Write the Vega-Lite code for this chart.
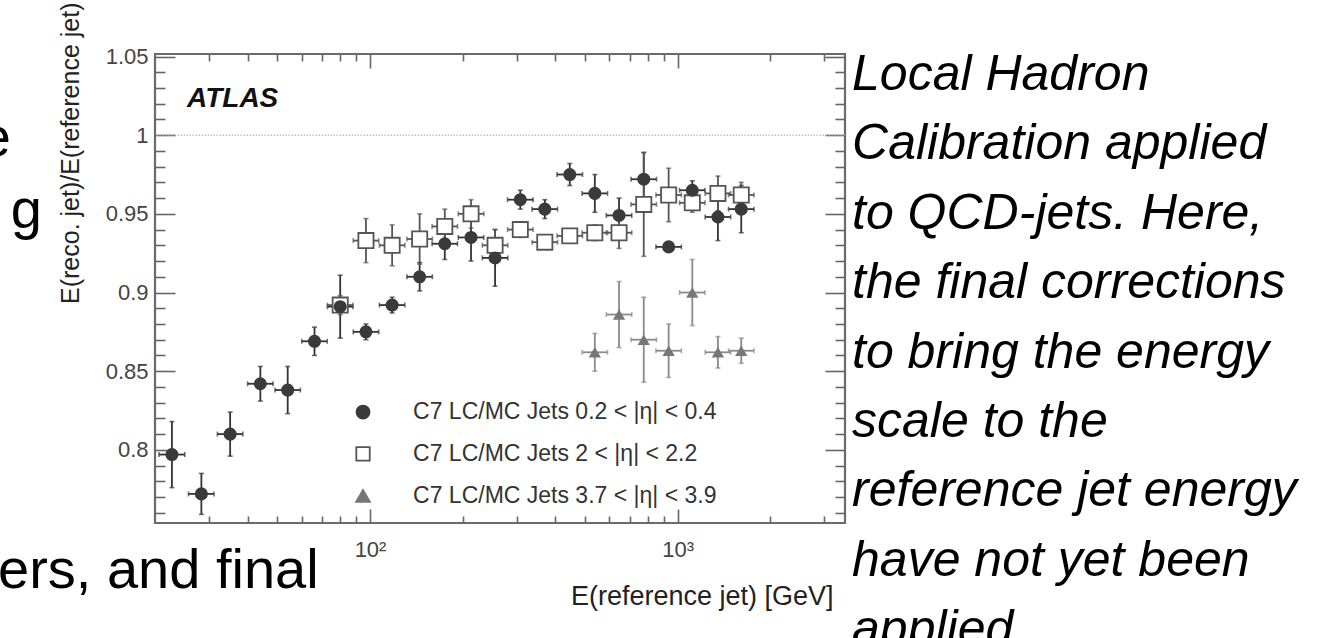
{
  "$schema": "https://vega.github.io/schema/vega-lite/v6.json",
  "width": 690,
  "height": 469,
  "autosize": {"type": "none"},
  "padding": {"left": 155, "top": 54, "right": 489, "bottom": 115},
  "background": "white",
  "config": {"view": {"stroke": "#6a6a6a", "strokeWidth": 2.2}, "font": "Liberation Sans"},
  "datasets": {
    "pts": [
      {"s": "eta02", "E": 22.7, "r": 0.797, "Elo": 20.6, "Ehi": 25.0, "rlo": 0.776, "rhi": 0.818},
      {"s": "eta02", "E": 28.3, "r": 0.772, "Elo": 25.7, "Ehi": 31.1, "rlo": 0.759, "rhi": 0.785},
      {"s": "eta02", "E": 35.1, "r": 0.810, "Elo": 31.9, "Ehi": 38.6, "rlo": 0.796, "rhi": 0.824},
      {"s": "eta02", "E": 44, "r": 0.842, "Elo": 40, "Ehi": 48.4, "rlo": 0.831, "rhi": 0.853},
      {"s": "eta02", "E": 54, "r": 0.838, "Elo": 49.1, "Ehi": 59.4, "rlo": 0.823, "rhi": 0.853},
      {"s": "eta02", "E": 66, "r": 0.869, "Elo": 60, "Ehi": 72.6, "rlo": 0.860, "rhi": 0.878},
      {"s": "eta02", "E": 80, "r": 0.891, "Elo": 72.7, "Ehi": 88, "rlo": 0.871, "rhi": 0.911},
      {"s": "eta02", "E": 97, "r": 0.875, "Elo": 88.2, "Ehi": 106.7, "rlo": 0.870, "rhi": 0.880},
      {"s": "eta02", "E": 118, "r": 0.892, "Elo": 107.3, "Ehi": 129.8, "rlo": 0.887, "rhi": 0.897},
      {"s": "eta02", "E": 145, "r": 0.910, "Elo": 131.8, "Ehi": 159.5, "rlo": 0.901, "rhi": 0.919},
      {"s": "eta02", "E": 175, "r": 0.931, "Elo": 159.1, "Ehi": 192.5, "rlo": 0.921, "rhi": 0.941},
      {"s": "eta02", "E": 213, "r": 0.935, "Elo": 193.6, "Ehi": 234.3, "rlo": 0.920, "rhi": 0.950},
      {"s": "eta02", "E": 255, "r": 0.922, "Elo": 231.8, "Ehi": 280.5, "rlo": 0.904, "rhi": 0.940},
      {"s": "eta02", "E": 308, "r": 0.959, "Elo": 280, "Ehi": 338.8, "rlo": 0.953, "rhi": 0.965},
      {"s": "eta02", "E": 370, "r": 0.953, "Elo": 336.4, "Ehi": 407, "rlo": 0.947, "rhi": 0.959},
      {"s": "eta02", "E": 446, "r": 0.975, "Elo": 405.5, "Ehi": 490.6, "rlo": 0.968, "rhi": 0.982},
      {"s": "eta02", "E": 538, "r": 0.963, "Elo": 489.1, "Ehi": 591.8, "rlo": 0.951, "rhi": 0.975},
      {"s": "eta02", "E": 645, "r": 0.949, "Elo": 586.4, "Ehi": 709.5, "rlo": 0.938, "rhi": 0.960},
      {"s": "eta02", "E": 776, "r": 0.972, "Elo": 705.5, "Ehi": 853.6, "rlo": 0.955, "rhi": 0.989},
      {"s": "eta02", "E": 935, "r": 0.929, "Elo": 850, "Ehi": 1028.5, "rlo": 0.926, "rhi": 0.932},
      {"s": "eta02", "E": 1116, "r": 0.965, "Elo": 1014.5, "Ehi": 1227.6, "rlo": 0.959, "rhi": 0.971},
      {"s": "eta02", "E": 1352, "r": 0.948, "Elo": 1229, "Ehi": 1487, "rlo": 0.933, "rhi": 0.963},
      {"s": "eta02", "E": 1610, "r": 0.953, "Elo": 1463.6, "Ehi": 1771, "rlo": 0.938, "rhi": 0.968},
      {"s": "eta2", "E": 80, "r": 0.892, "Elo": 72.7, "Ehi": 88, "rlo": 0.886, "rhi": 0.898},
      {"s": "eta2", "E": 97, "r": 0.933, "Elo": 88.2, "Ehi": 106.7, "rlo": 0.919, "rhi": 0.947},
      {"s": "eta2", "E": 118, "r": 0.930, "Elo": 107.3, "Ehi": 129.8, "rlo": 0.917, "rhi": 0.943},
      {"s": "eta2", "E": 145, "r": 0.934, "Elo": 131.8, "Ehi": 159.5, "rlo": 0.918, "rhi": 0.950},
      {"s": "eta2", "E": 175, "r": 0.942, "Elo": 159.1, "Ehi": 192.5, "rlo": 0.931, "rhi": 0.953},
      {"s": "eta2", "E": 213, "r": 0.950, "Elo": 193.6, "Ehi": 234.3, "rlo": 0.941, "rhi": 0.959},
      {"s": "eta2", "E": 255, "r": 0.930, "Elo": 231.8, "Ehi": 280.5, "rlo": 0.920, "rhi": 0.940},
      {"s": "eta2", "E": 308, "r": 0.940, "Elo": 280, "Ehi": 338.8, "rlo": 0.935, "rhi": 0.945},
      {"s": "eta2", "E": 370, "r": 0.932, "Elo": 336.4, "Ehi": 407, "rlo": 0.928, "rhi": 0.936},
      {"s": "eta2", "E": 446, "r": 0.936, "Elo": 405.5, "Ehi": 490.6, "rlo": 0.932, "rhi": 0.940},
      {"s": "eta2", "E": 538, "r": 0.938, "Elo": 489.1, "Ehi": 591.8, "rlo": 0.933, "rhi": 0.943},
      {"s": "eta2", "E": 645, "r": 0.938, "Elo": 586.4, "Ehi": 709.5, "rlo": 0.928, "rhi": 0.948},
      {"s": "eta2", "E": 776, "r": 0.956, "Elo": 705.5, "Ehi": 853.6, "rlo": 0.923, "rhi": 0.989},
      {"s": "eta2", "E": 935, "r": 0.962, "Elo": 850, "Ehi": 1028.5, "rlo": 0.945, "rhi": 0.979},
      {"s": "eta2", "E": 1116, "r": 0.957, "Elo": 1014.5, "Ehi": 1227.6, "rlo": 0.951, "rhi": 0.963},
      {"s": "eta2", "E": 1352, "r": 0.963, "Elo": 1229, "Ehi": 1487, "rlo": 0.952, "rhi": 0.974},
      {"s": "eta2", "E": 1610, "r": 0.962, "Elo": 1463.6, "Ehi": 1771, "rlo": 0.954, "rhi": 0.970},
      {"s": "eta37", "E": 538, "r": 0.862, "Elo": 489.1, "Ehi": 591.8, "rlo": 0.850, "rhi": 0.874},
      {"s": "eta37", "E": 645, "r": 0.886, "Elo": 586.4, "Ehi": 709.5, "rlo": 0.865, "rhi": 0.907},
      {"s": "eta37", "E": 776, "r": 0.870, "Elo": 705.5, "Ehi": 853.6, "rlo": 0.843, "rhi": 0.897},
      {"s": "eta37", "E": 935, "r": 0.863, "Elo": 850, "Ehi": 1028.5, "rlo": 0.846, "rhi": 0.880},
      {"s": "eta37", "E": 1116, "r": 0.900, "Elo": 1014.5, "Ehi": 1227.6, "rlo": 0.879, "rhi": 0.921},
      {"s": "eta37", "E": 1352, "r": 0.862, "Elo": 1229, "Ehi": 1487, "rlo": 0.852, "rhi": 0.872},
      {"s": "eta37", "E": 1610, "r": 0.863, "Elo": 1463.6, "Ehi": 1771, "rlo": 0.855, "rhi": 0.871}
    ],
    "legend": [
      {"s": "eta02", "E": 94.9, "Et": 138, "r": 0.8240, "label": "C7 LC/MC Jets 0.2 < |η| < 0.4"},
      {"s": "eta2", "E": 94.9, "Et": 138, "r": 0.7974, "label": "C7 LC/MC Jets 2 < |η| < 2.2"},
      {"s": "eta37", "E": 94.9, "Et": 138, "r": 0.7707, "label": "C7 LC/MC Jets 3.7 < |η| < 3.9"}
    ],
    "para": [
      {"E": 3689, "r": 1.03825, "t": "Local Hadron"},
      {"E": 3689, "r": 0.99414, "t": "Calibration applied"},
      {"E": 3689, "r": 0.95003, "t": "to QCD-jets. Here,"},
      {"E": 3689, "r": 0.90592, "t": "the final corrections"},
      {"E": 3689, "r": 0.86181, "t": "to bring the energy"},
      {"E": 3689, "r": 0.81770, "t": "scale to the"},
      {"E": 3689, "r": 0.77359, "t": "reference jet energy"},
      {"E": 3689, "r": 0.72947, "t": "have not yet been"},
      {"E": 3689, "r": 0.68536, "t": "applied"}
    ],
    "slide": [
      {"E": 6.806, "r": 0.98677, "t": "e"},
      {"E": 8.585, "r": 0.94101, "t": "g"}
    ],
    "slide2": [
      {"E": 6.177, "r": 0.71219, "t": "ers, and final"}
    ],
    "one": [{"r": 1}],
    "atlas": [{"E": 25.42, "r": 1.0179, "t": "ATLAS"}]
  },
  "resolve": {"axis": {"x": "independent", "y": "independent"}},
  "layer": [
    {
      "data": {"name": "one"},
      "mark": {"type": "rule", "color": "#b0b0b0", "strokeDash": [1.5, 1.5], "strokeWidth": 1.2},
      "encoding": {
        "y": {"field": "r", "type": "quantitative", "scale": {"domain": [0.7535, 1.0516], "zero": false, "nice": false}, "axis": null}
      }
    },
    {
      "data": {"name": "pts"},
      "mark": {"type": "rule", "strokeWidth": 1.8},
      "encoding": {
        "x": {"field": "E", "type": "quantitative", "scale": {"type": "log", "domain": [20, 3500], "nice": false},
          "axis": {
            "orient": "bottom", "values": [30,40,50,60,70,80,90,100,200,300,400,500,600,700,800,900,1000,2000,3000],
            "labelExpr": "datum.value == 100 ? '10²' : (datum.value == 1000 ? '10³' : '')",
            "tickSize": {"condition": {"test": "datum.value == 100 || datum.value == 1000", "value": -14}, "value": -7},
            "tickColor": "#666", "tickWidth": 1.6, "domain": false, "grid": false,
            "labelOverlap": false, "labelFlush": false, "labelFontSize": 22, "labelColor": "#444", "labelPadding": 30,
            "title": "E(reference jet) [GeV]", "titleFontSize": 27, "titleFontWeight": "normal", "titleColor": "#222",
            "titleX": 678, "titleY": 60, "titleAlign": "right", "titleBaseline": "top"
          }},
        "y": {"field": "rlo", "type": "quantitative", "scale": {"domain": [0.7535, 1.0516], "zero": false, "nice": false},
          "axis": {
            "orient": "left", "values": [0.76,0.77,0.78,0.79,0.8,0.81,0.82,0.83,0.84,0.85,0.86,0.87,0.88,0.89,0.9,0.91,0.92,0.93,0.94,0.95,0.96,0.97,0.98,0.99,1,1.01,1.02,1.03,1.04,1.05],
            "labelExpr": "abs(datum.value*20 - round(datum.value*20)) < 0.001 ? format(datum.value, '~g') : ''",
            "tickSize": {"condition": {"test": "abs(datum.value*20 - round(datum.value*20)) < 0.001", "value": -20}, "value": -10},
            "tickColor": "#666", "tickWidth": 1.6, "domain": false, "grid": false,
            "labelOverlap": false, "labelFlush": false, "labelFontSize": 22, "labelColor": "#444", "labelPadding": 27,
            "title": "E(reco. jet)/E(reference jet)", "titleFontSize": 25, "titleFontWeight": "normal", "titleColor": "#222",
            "titleX": -72, "titleY": -52, "titleAlign": "right", "titleBaseline": "bottom", "titleAngle": 270
          }},
        "y2": {"field": "rhi"},
        "color": {"field": "s", "type": "nominal", "scale": {"domain": ["eta02", "eta2", "eta37"], "range": ["#333333", "#555555", "#8a8a8a"]}, "legend": null}
      }
    },
    {
      "data": {"name": "pts"},
      "mark": {"type": "rule", "strokeWidth": 1.8},
      "encoding": {
        "x": {"field": "Elo", "type": "quantitative", "scale": {"type": "log", "domain": [20, 3500], "nice": false},
          "axis": {
            "orient": "top", "values": [30,40,50,60,70,80,90,100,200,300,400,500,600,700,800,900,1000,2000,3000],
            "labels": false, "title": null,
            "tickSize": {"condition": {"test": "datum.value == 100 || datum.value == 1000", "value": -14}, "value": -7},
            "tickColor": "#666", "tickWidth": 1.6, "domain": false, "grid": false
          }},
        "x2": {"field": "Ehi"},
        "y": {"field": "r", "type": "quantitative", "scale": {"domain": [0.7535, 1.0516], "zero": false, "nice": false},
          "axis": {
            "orient": "right", "values": [0.76,0.77,0.78,0.79,0.8,0.81,0.82,0.83,0.84,0.85,0.86,0.87,0.88,0.89,0.9,0.91,0.92,0.93,0.94,0.95,0.96,0.97,0.98,0.99,1,1.01,1.02,1.03,1.04,1.05],
            "labels": false, "title": null,
            "tickSize": {"condition": {"test": "abs(datum.value*20 - round(datum.value*20)) < 0.001", "value": -20}, "value": -10},
            "tickColor": "#666", "tickWidth": 1.6, "domain": false, "grid": false
          }},
        "color": {"field": "s", "type": "nominal", "scale": {"domain": ["eta02", "eta2", "eta37"], "range": ["#333333", "#555555", "#8a8a8a"]}, "legend": null}
      }
    },
    {
      "data": {"name": "pts"},
      "transform": [{"fold": ["rlo", "rhi"], "as": ["end", "rv"]}],
      "mark": {"type": "tick", "orient": "horizontal", "size": 5, "thickness": 1.6},
      "encoding": {
        "x": {"field": "E", "type": "quantitative", "scale": {"type": "log", "domain": [20, 3500], "nice": false}, "axis": null},
        "y": {"field": "rv", "type": "quantitative", "scale": {"domain": [0.7535, 1.0516], "zero": false, "nice": false}, "axis": null},
        "color": {"field": "s", "type": "nominal", "scale": {"domain": ["eta02", "eta2", "eta37"], "range": ["#333333", "#555555", "#8a8a8a"]}, "legend": null}
      }
    },
    {
      "data": {"name": "pts"},
      "transform": [{"fold": ["Elo", "Ehi"], "as": ["end", "Ev"]}],
      "mark": {"type": "tick", "orient": "vertical", "size": 5, "thickness": 1.6},
      "encoding": {
        "x": {"field": "Ev", "type": "quantitative", "scale": {"type": "log", "domain": [20, 3500], "nice": false}, "axis": null},
        "y": {"field": "r", "type": "quantitative", "scale": {"domain": [0.7535, 1.0516], "zero": false, "nice": false}, "axis": null},
        "color": {"field": "s", "type": "nominal", "scale": {"domain": ["eta02", "eta2", "eta37"], "range": ["#333333", "#555555", "#8a8a8a"]}, "legend": null}
      }
    },
    {
      "data": {"name": "pts"},
      "transform": [{"filter": "datum.s == 'eta2'"}],
      "mark": {"type": "point", "shape": "square", "filled": true, "fill": "white", "stroke": "#555", "strokeWidth": 1.8, "size": 230, "opacity": 1},
      "encoding": {
        "x": {"field": "E", "type": "quantitative", "scale": {"type": "log", "domain": [20, 3500], "nice": false}, "axis": null},
        "y": {"field": "r", "type": "quantitative", "scale": {"domain": [0.7535, 1.0516], "zero": false, "nice": false}, "axis": null}
      }
    },
    {
      "data": {"name": "pts"},
      "transform": [{"filter": "datum.s == 'eta02'"}],
      "mark": {"type": "point", "shape": "circle", "filled": true, "fill": "#3a3a3a", "size": 170, "opacity": 1},
      "encoding": {
        "x": {"field": "E", "type": "quantitative", "scale": {"type": "log", "domain": [20, 3500], "nice": false}, "axis": null},
        "y": {"field": "r", "type": "quantitative", "scale": {"domain": [0.7535, 1.0516], "zero": false, "nice": false}, "axis": null}
      }
    },
    {
      "data": {"name": "pts"},
      "transform": [{"filter": "datum.s == 'eta37'"}],
      "mark": {"type": "point", "shape": "triangle-up", "filled": true, "fill": "#777", "size": 150, "opacity": 1},
      "encoding": {
        "x": {"field": "E", "type": "quantitative", "scale": {"type": "log", "domain": [20, 3500], "nice": false}, "axis": null},
        "y": {"field": "r", "type": "quantitative", "scale": {"domain": [0.7535, 1.0516], "zero": false, "nice": false}, "axis": null}
      }
    },
    {
      "data": {"name": "legend"},
      "mark": {"type": "point", "filled": true, "opacity": 1, "strokeWidth": 1.8},
      "encoding": {
        "x": {"field": "E", "type": "quantitative", "scale": {"type": "log", "domain": [20, 3500], "nice": false}, "axis": null},
        "y": {"field": "r", "type": "quantitative", "scale": {"domain": [0.7535, 1.0516], "zero": false, "nice": false}, "axis": null},
        "shape": {"field": "s", "type": "nominal", "scale": {"domain": ["eta02", "eta2", "eta37"], "range": ["circle", "square", "triangle-up"]}, "legend": null},
        "fill": {"field": "s", "type": "nominal", "scale": {"domain": ["eta02", "eta2", "eta37"], "range": ["#3a3a3a", "#ffffff", "#777777"]}, "legend": null},
        "stroke": {"field": "s", "type": "nominal", "scale": {"domain": ["eta02", "eta2", "eta37"], "range": ["#3a3a3a", "#555555", "#777777"]}, "legend": null},
        "size": {"field": "s", "type": "nominal", "scale": {"domain": ["eta02", "eta2", "eta37"], "range": [170, 190, 120]}, "legend": null}
      }
    },
    {
      "data": {"name": "legend"},
      "mark": {"type": "text", "align": "left", "baseline": "middle", "fontSize": 23, "color": "#333"},
      "encoding": {
        "x": {"field": "Et", "type": "quantitative", "scale": {"type": "log", "domain": [20, 3500], "nice": false}, "axis": null},
        "y": {"field": "r", "type": "quantitative", "scale": {"domain": [0.7535, 1.0516], "zero": false, "nice": false}, "axis": null},
        "text": {"field": "label"}
      }
    },
    {
      "data": {"name": "atlas"},
      "mark": {"type": "text", "align": "left", "baseline": "alphabetic", "fontSize": 28, "fontWeight": "bold", "fontStyle": "italic", "color": "#111"},
      "encoding": {
        "x": {"field": "E", "type": "quantitative", "scale": {"type": "log", "domain": [20, 3500], "nice": false}, "axis": null},
        "y": {"field": "r", "type": "quantitative", "scale": {"domain": [0.7535, 1.0516], "zero": false, "nice": false}, "axis": null},
        "text": {"field": "t"}
      }
    },
    {
      "data": {"name": "para"},
      "mark": {"type": "text", "align": "left", "baseline": "middle", "fontSize": 50, "fontStyle": "italic", "color": "#000"},
      "encoding": {
        "x": {"field": "E", "type": "quantitative", "scale": {"type": "log", "domain": [20, 3500], "nice": false}, "axis": null},
        "y": {"field": "r", "type": "quantitative", "scale": {"domain": [0.7535, 1.0516], "zero": false, "nice": false}, "axis": null},
        "text": {"field": "t"}
      }
    },
    {
      "data": {"name": "slide"},
      "mark": {"type": "text", "align": "right", "baseline": "alphabetic", "fontSize": 56, "color": "#000"},
      "encoding": {
        "x": {"field": "E", "type": "quantitative", "scale": {"type": "log", "domain": [20, 3500], "nice": false}, "axis": null},
        "y": {"field": "r", "type": "quantitative", "scale": {"domain": [0.7535, 1.0516], "zero": false, "nice": false}, "axis": null},
        "text": {"field": "t"}
      }
    },
    {
      "data": {"name": "slide2"},
      "mark": {"type": "text", "align": "left", "baseline": "alphabetic", "fontSize": 56, "color": "#000"},
      "encoding": {
        "x": {"field": "E", "type": "quantitative", "scale": {"type": "log", "domain": [20, 3500], "nice": false}, "axis": null},
        "y": {"field": "r", "type": "quantitative", "scale": {"domain": [0.7535, 1.0516], "zero": false, "nice": false}, "axis": null},
        "text": {"field": "t"}
      }
    }
  ]
}
